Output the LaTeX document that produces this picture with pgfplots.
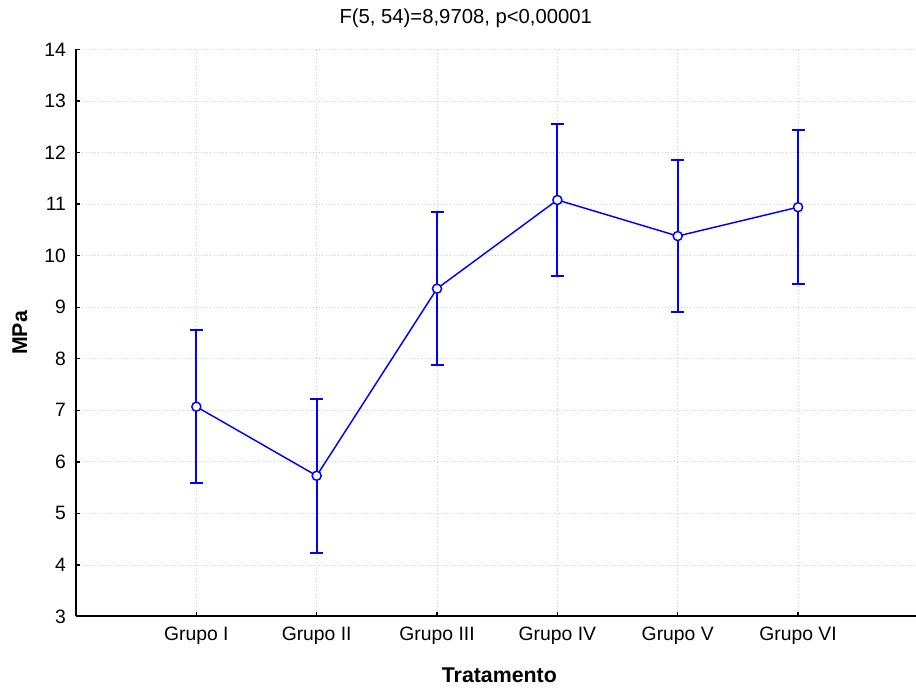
\documentclass[border=0pt]{standalone}
\usepackage{pgfplots}
\pgfplotsset{compat=1.18}
\usepackage{fontspec}
\setmainfont{Liberation Sans}
\usetikzlibrary{calc}
\definecolor{lineblue}{RGB}{0,0,255}
\begin{document}
\begin{tikzpicture}
\begin{axis}[
  scale only axis,
  width=630pt, height=425.25pt,
  xmin=-1, xmax=5.98,
  ymin=3, ymax=14,
  ytick={3,4,...,14},
  xtick={0,1,2,3,4,5},
  xticklabels={Grupo I,Grupo II,Grupo III,Grupo IV,Grupo V,Grupo VI},
  axis x line*=bottom,
  axis y line*=left,
  axis line style={-, line width=1.5pt, black},
  tick align=inside,
  major tick length=3pt,
  tick style={black, line width=1pt},
  grid=major,
  major grid style={gray!40, dotted, line width=0.6pt},
  /pgf/number format/assume math mode=true,
  font=\fontsize{14.5}{17}\selectfont,
  yticklabel style={xshift=-4pt},
  xticklabel style={yshift=-4pt},
  every axis title shift=0pt,
  title={F(5, 54)=8,9708, p<0,00001},
  title style={at={(axis description cs:0.464,1.0556)}, anchor=center, font=\fontsize{15.2}{18}\selectfont},
  xlabel={\textbf{Tratamento}},
  xlabel style={at={(axis description cs:0.504,-0.103)}, anchor=center, font=\fontsize{16}{19}\selectfont},
  ylabel={\textbf{MPa}},
  ylabel style={at={(axis description cs:-0.0667,0.5)}, anchor=center, font=\fontsize{16}{19}\selectfont},
  clip=false,
]
\addplot+[
  lineblue, line width=1.1pt,
  mark=*, mark size=3.4pt,
  mark options={fill=white, draw=lineblue, line width=1.1pt, solid},
  error bars/.cd,
    y dir=both, y explicit,
    error mark=-,
    error mark options={lineblue, line width=1.5pt, mark size=4.9pt, rotate=90},
    error bar style={lineblue, line width=1.5pt},
] table[x=x, y=y, y error=e] {
x y e
0 7.07 1.49
1 5.73 1.49
2 9.36 1.48
3 11.08 1.48
4 10.38 1.48
5 10.94 1.49
};
\end{axis}
\pgfresetboundingbox
\path[use as bounding box] ($(current axis.south west)+(-57pt,-55.1pt)$) rectangle ($(current axis.north east)+(0pt,37.1pt)$);
\end{tikzpicture}
\end{document}
